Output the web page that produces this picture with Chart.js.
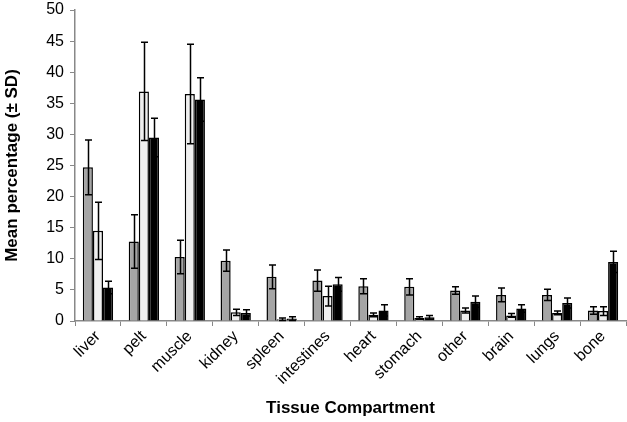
<!DOCTYPE html>
<html>
<head>
<meta charset="utf-8">
<script src="https://cdn.jsdelivr.net/npm/chart.js@4.4.0/dist/chart.umd.min.js"></script>
<style>
	body { margin: 0; background: #fff; }
	#wrap { width: 627px; height: 422px; }
</style>
</head>
<body>
<div id="wrap"><canvas id="myChart" width="627" height="422"></canvas></div>
<script>
const tissues = ['liver', 'pelt', 'muscle', 'kidney', 'spleen', 'intestines', 'heart', 'stomach', 'other', 'brain', 'lungs', 'bone']

const grayValues = [24.7, 12.8, 10.3, 9.7, 7.1, 6.5, 5.6, 5.5, 4.9, 4.2, 4.2, 1.7]
const graySD     = [4.4, 4.3, 2.7, 1.7, 1.9, 1.7, 1.2, 1.3, 0.6, 1.1, 0.9, 0.6]
const whiteValues = [14.5, 36.9, 36.5, 1.4, 0.3, 4.0, 1.0, 0.5, 1.7, 0.9, 1.3, 1.6]
const whiteSD     = [4.6, 7.9, 8.0, 0.5, 0.2, 1.6, 0.3, 0.2, 0.4, 0.3, 0.3, 0.7]
const blackValues = [5.4, 29.5, 35.6, 1.3, 0.4, 5.9, 1.7, 0.6, 3.1, 2.0, 2.9, 9.5]
const blackSD     = [1.0, 3.1, 3.5, 0.5, 0.3, 1.1, 0.9, 0.3, 0.9, 0.6, 0.8, 1.7]

const yTicks = [0, 5, 10, 15, 20, 25, 30, 35, 40, 45, 50]

// draws the ± SD whiskers on top of each bar
const errorBars = {
	id: 'errorBars',
	afterDatasetsDraw(chart) {
		const ctx = chart.ctx
		const y = chart.scales.y
		ctx.save()
		ctx.strokeStyle = '#000'
		ctx.lineWidth = 1.5
		chart.data.datasets.forEach((ds, i) => {
			const meta = chart.getDatasetMeta(i)
			meta.data.forEach((bar, j) => {
				const v = ds.data[j]
				const sd = ds.sd[j]
				const top = y.getPixelForValue(v + sd)
				const bot = y.getPixelForValue(Math.max(v - sd, 0))
				const x = Math.round(bar.x) + 0.5
				ctx.beginPath()
				ctx.moveTo(x, top); ctx.lineTo(x, bot)
				ctx.moveTo(x - 3.5, top); ctx.lineTo(x + 3.5, top)
				ctx.moveTo(x - 3.5, bot); ctx.lineTo(x + 3.5, bot)
				ctx.stroke()
			})
		})
		ctx.restore()
	}
}

function init(){
	Chart.defaults.font.family = '"Liberation Sans", Arial, sans-serif'
	Chart.defaults.color = '#000'

	const ctx = document.getElementById('myChart').getContext('2d')
	new Chart(ctx, {
		type: 'bar',
		data: {
			labels: tissues,
			datasets: [{
				data: grayValues,
				sd: graySD,
				backgroundColor: '#a5a5a5',
				borderColor: '#000',
				borderWidth: 1.5,
			}, {
				data: whiteValues,
				sd: whiteSD,
				backgroundColor: '#efefef',
				borderColor: '#000',
				borderWidth: 1.5,
			}, {
				data: blackValues,
				sd: blackSD,
				backgroundColor: '#000',
				borderColor: '#000',
				borderWidth: 1.5,
			}]
		},
		plugins: [errorBars],
		options: {
			responsive: false,
			animation: false,
			devicePixelRatio: 1,
			categoryPercentage: 0.66,
			barPercentage: 1.0,
			layout: { padding: { top: 10, right: 1, left: 0, bottom: 0 } },
			plugins: {
				legend: { display: false },
				tooltip: { enabled: false },
			},
			scales: {
				x: {
					grid: {
						display: true,
						drawOnChartArea: false,
						drawTicks: true,
						tickLength: 5,
						color: '#888',
						offset: true,
					},
					border: { color: '#888', width: 1.5 },
					ticks: {
						minRotation: 45,
						maxRotation: 45,
						padding: 1,
						font: { size: 16 },
						color: '#000',
					},
					title: {
						display: true,
						text: 'Tissue Compartment',
						font: { size: 17, weight: 'bold' },
						padding: { top: 4, bottom: 3 },
					},
					afterFit(scale) {
						scale.height = 101
						scale.paddingLeft = 0
						scale.paddingRight = 0
					}
				},
				y: {
					min: 0,
					max: 50,
					afterBuildTicks(scale) {
						scale.ticks = yTicks.map(v => ({ value: v }))
					},
					grid: {
						display: true,
						drawOnChartArea: false,
						drawTicks: true,
						tickLength: 5,
						color: '#888',
					},
					border: { color: '#888', width: 1.5 },
					ticks: {
						padding: 6,
						font: { size: 16 },
						color: '#000',
					},
					title: {
						display: true,
						text: 'Mean percentage (± SD)',
						font: { size: 17, weight: 'bold' },
						padding: { top: 2, bottom: 2 },
					},
					afterFit(scale) {
						scale.width = 75
						scale.paddingTop = 0
						scale.paddingBottom = 0
					}
				}
			}
		}
	})
}

init()
</script>
</body>
</html>
